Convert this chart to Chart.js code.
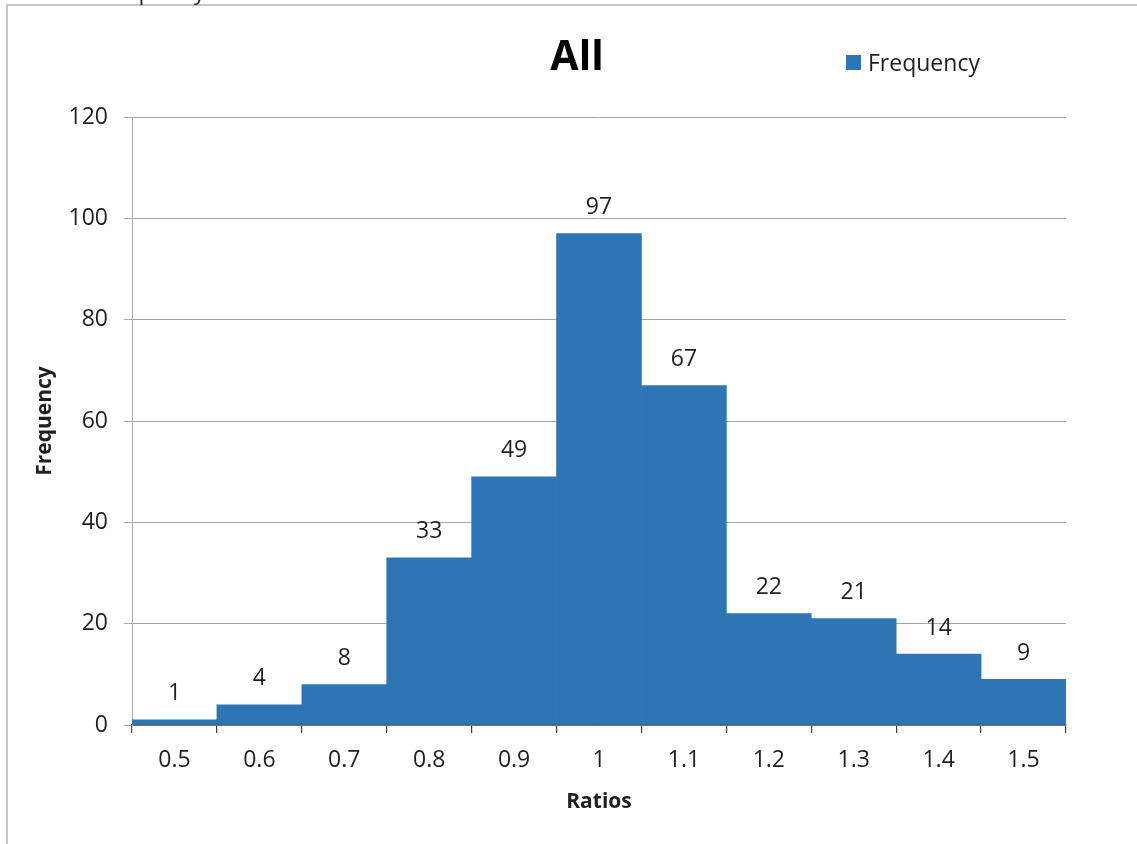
<!DOCTYPE html>
<html>
<head>
<meta charset="utf-8">
<script src="https://cdn.jsdelivr.net/npm/chart.js@4.4.0/dist/chart.umd.min.js"></script>
<style>
  html, body { margin: 0; padding: 0; background: #ffffff; }
  #wrap { position: relative; width: 1137px; height: 844px; }
</style>
</head>
<body>
<div id="wrap"><canvas id="c"></canvas></div>
<script>
const categories = ['0.5', '0.6', '0.7', '0.8', '0.9', '1', '1.1', '1.2', '1.3', '1.4', '1.5'];
const frequency = [1, 4, 8, 33, 49, 97, 67, 22, 21, 14, 9];
const seriesName = 'Frequency';
const chartTitle = 'All';
const yTitle = 'Frequency';
const xTitle = 'Ratios';
const cutTitle = 'Frequency';

const BAR = '#2e75b6';
const TEXT = '#1f1f1f';
const FONT = '"Open Sans", "Liberation Sans", sans-serif';

const decorPlugin = {
  id: 'decor',
  beforeDraw(chart) {
    const ctx = chart.ctx;
    ctx.save();
    ctx.fillStyle = '#ffffff';
    ctx.fillRect(0, 0, chart.width, chart.height);
    // outer frame (top and left)
    ctx.strokeStyle = '#b4b4b4';
    ctx.lineWidth = 1.5;
    ctx.beginPath();
    ctx.moveTo(7, chart.height);
    ctx.lineTo(7, 5);
    ctx.lineTo(chart.width, 5);
    ctx.stroke();
    // clipped text from the chart above
    ctx.fillStyle = TEXT;
    ctx.font = '22px ' + FONT;
    ctx.textAlign = 'left';
    ctx.textBaseline = 'alphabetic';
    ctx.fillText(cutTitle, 98, 0);
    ctx.restore();
  },
  afterDatasetsDraw(chart) {
    const ctx = chart.ctx;
    const meta = chart.getDatasetMeta(0);
    const data = chart.data.datasets[0].data;
    ctx.save();
    ctx.fillStyle = TEXT;
    ctx.font = '23px ' + FONT;
    ctx.textAlign = 'center';
    ctx.textBaseline = 'middle';
    meta.data.forEach((bar, i) => {
      ctx.fillText(String(data[i]), bar.x, bar.y - 26);
    });
    ctx.restore();
  },
  afterDraw(chart) {
    const ctx = chart.ctx;
    ctx.save();
    // title
    ctx.fillStyle = '#000000';
    ctx.font = 'bold 41px ' + FONT;
    ctx.textAlign = 'center';
    ctx.textBaseline = 'middle';
    ctx.fillText(chartTitle, 577, 58);
    // legend
    ctx.fillStyle = BAR;
    ctx.fillRect(846, 55, 15, 15);
    ctx.fillStyle = TEXT;
    ctx.font = '23px ' + FONT;
    ctx.textAlign = 'left';
    ctx.fillText(seriesName, 868, 64);
    ctx.restore();
  }
};

new Chart(document.getElementById('c'), {
  type: 'bar',
  data: {
    labels: categories,
    datasets: [{
      label: seriesName,
      data: frequency,
      backgroundColor: BAR,
      borderWidth: 0,
      barPercentage: 1.0,
      categoryPercentage: 1.0
    }]
  },
  options: {
    responsive: true,
    maintainAspectRatio: false,
    animation: false,
    devicePixelRatio: 1,
    layout: { padding: { top: 117, right: 71, bottom: 0, left: 0 } },
    plugins: {
      legend: { display: false },
      title: { display: false },
      tooltip: { enabled: false }
    },
    scales: {
      x: {
        offset: true,
        grid: {
          display: true,
          offset: true,
          drawOnChartArea: false,
          drawTicks: true,
          tickLength: 8,
          color: '#404040',
          lineWidth: 1.2
        },
        border: { display: true, color: '#404040', width: 1.5 },
        ticks: {
          color: TEXT,
          font: { family: FONT, size: 23 },
          padding: 14,
          maxRotation: 0,
          autoSkip: false
        },
        title: {
          display: true,
          text: xTitle,
          color: TEXT,
          font: { family: FONT, size: 21, weight: 'bold' },
          padding: { top: 0, bottom: 29 }
        },
        afterFit(scale) { scale.height = 119; }
      },
      y: {
        min: 0,
        max: 120,
        ticks: {
          stepSize: 20,
          color: TEXT,
          font: { family: FONT, size: 23 },
          padding: 16
        },
        grid: {
          color: '#a6a6a6',
          lineWidth: 1,
          drawTicks: true,
          tickLength: 8
        },
        border: { display: true, color: '#a6a6a6', width: 1 },
        title: {
          display: true,
          text: yTitle,
          color: TEXT,
          font: { family: FONT, size: 21, weight: 'bold' },
          padding: { top: 32, bottom: 0 }
        },
        afterFit(scale) { scale.width = 132; }
      }
    }
  },
  plugins: [decorPlugin]
});
</script>
</body>
</html>
